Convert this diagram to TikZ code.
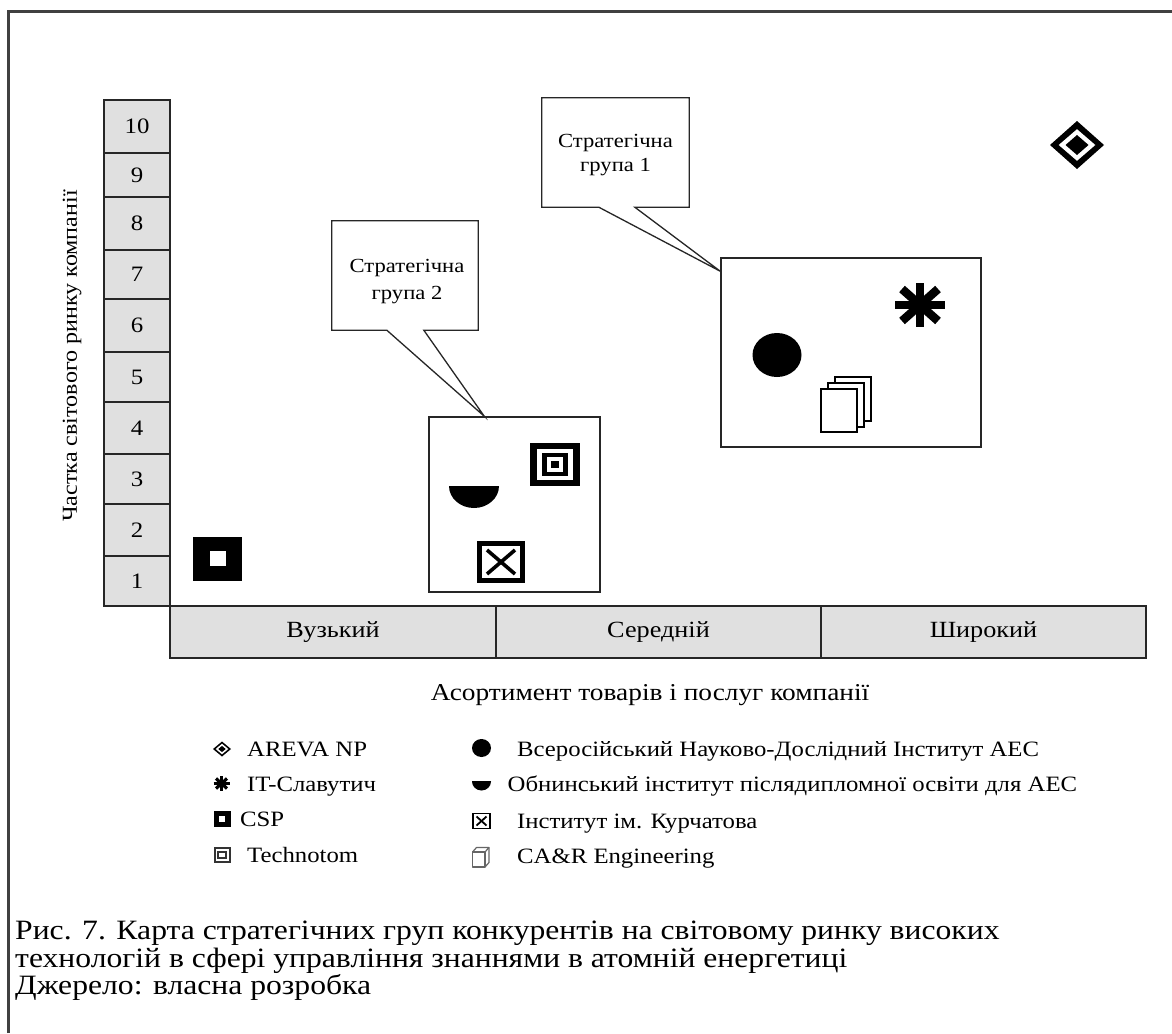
\documentclass[tikz,border=0pt]{standalone}
\usepackage{fontspec}
\setmainfont{Liberation Serif}[FakeStretch=1.13]
\usetikzlibrary{calc}
\tikzset{
  frameline/.style={draw=black!75, line width=3pt},
  cell/.style={draw=black!85, fill=black!12, line width=1.5pt, inner sep=0pt, minimum width=66pt, font=\fontsize{22}{26}\selectfont},
  xcell/.style={cell, minimum height=52pt, minimum width=325pt, font=\fontsize{23.2}{27}\selectfont},
  grp/.style={draw=black!85, line width=1.5pt, fill=white, inner sep=0pt},
  callouttext/.style={inner sep=0pt, align=center},
  calloutline/.style={draw=black!85, line width=1.3pt, line join=miter},
  legtext/.style={anchor=base west, inner sep=0pt, font=\fontsize{21.9}{25}\selectfont},
  captext/.style={anchor=base west, inner sep=0pt, font=\fontsize{28}{30}\selectfont},
  axtitle/.style={inner sep=0pt, font=\fontsize{24.2}{28}\selectfont},
}
\begin{document}
\begin{tikzpicture}[x=1pt,y=-1pt]
\useasboundingbox (0,0) rectangle (1172,1033);
\fill[white] (0,0) rectangle (1172,1033);
% outer frame (left and top edges visible)
\draw[frameline] (8,1033) -- (8,12) -- (1172,12);

% y axis cells
\node[cell, minimum height=53pt] (c10) at (137,126.5) {10};
\node[cell, minimum height=44pt] (c9) at (137,175) {9};
\node[cell, minimum height=53pt] (c8) at (137,223.5) {8};
\node[cell, minimum height=49pt] (c7) at (137,274.5) {7};
\node[cell, minimum height=53pt] (c6) at (137,325.5) {6};
\node[cell, minimum height=50pt] (c5) at (137,377) {5};
\node[cell, minimum height=52pt] (c4) at (137,428) {4};
\node[cell, minimum height=50pt] (c3) at (137,479) {3};
\node[cell, minimum height=52pt] (c2) at (137,530) {2};
\node[cell, minimum height=50pt] (c1) at (137,581) {1};
\node[axtitle, rotate=90, font=\fontsize{21.3}{25}\selectfont] (ylab) at (72,356) {Частка світового ринку компанії};

% x axis cells
\node[xcell, minimum width=326pt] (xa) at (333,632) {Вузький};
\node[xcell] (xb) at (658.5,632) {Середній};
\node[xcell] (xc) at (983.5,632) {Широкий};
\node[axtitle] (xlab) at (650,695) {Асортимент товарів і послуг компанії};

% strategic group boxes
\node[grp, minimum width=260pt, minimum height=189pt] (g1) at (851,352.5) {};
\node[grp, minimum width=171pt, minimum height=175pt] (g2) at (514.5,504.5) {};

% callouts
\node[inner sep=0pt, minimum width=147pt, minimum height=109pt] (cb1) at (615.5,152.5) {};
\node[inner sep=0pt, minimum width=146pt, minimum height=109pt] (cb2) at (405,275.5) {};
\node[callouttext, font=\fontsize{20}{23.5}\selectfont] (t1) at (615.5,155) {Стратегічна\\група 1};
\node[callouttext, font=\fontsize{20}{27}\selectfont] (t2) at (407,282) {Стратегічна\\група 2};
\coordinate (p1a) at ($(cb1.south west)+(57,0)$);
\coordinate (p1b) at ($(cb1.south west)+(93,0)$);
\coordinate (tip1) at ($(g1.north west)+(0,14)$);
\coordinate (p2a) at ($(cb2.south west)+(55,0)$);
\coordinate (p2b) at ($(cb2.south west)+(92,0)$);
\coordinate (tip2) at ($(g2.north west)+(56,0)$);
\draw[calloutline] (cb1.south west) -- (cb1.north west) -- (cb1.north east) -- (cb1.south east) -- (p1b) -- (tip1) -- (p1a) -- cycle;
\draw[calloutline] (cb2.south west) -- (cb2.north west) -- (cb2.north east) -- (cb2.south east) -- (p2b) -- (tip2) -- (p2a) -- cycle;

% ---- symbols on the map ----
% CSP
\fill (193,537) rectangle (242,581);
\fill[white] (210,551) rectangle (226,566);
% AREVA NP diamond
\fill (1050,145) -- (1077,121) -- (1104,145) -- (1077,169) -- cycle;
\fill[white] (1058.7,145) -- (1077,129.2) -- (1095.3,145) -- (1077,160.8) -- cycle;
\fill (1065.5,145) -- (1077,135) -- (1088.5,145) -- (1077,155) -- cycle;
% circle
\fill (777,355) ellipse [x radius=24.5, y radius=22];
% asterisk (IT-Slavutych)
\draw[line width=8.5pt] (895,305) -- (945,305);
\draw[line width=8.5pt] (920,283) -- (920,327);
\draw[line width=8.5pt] (902,289) -- (938,321);
\draw[line width=8.5pt] (902,321) -- (938,289);
% stacked pages (CA&R)
\draw[fill=white, line width=1.3pt] (835,377) rectangle (871,421);
\draw[fill=white, line width=1.3pt] (828,383) rectangle (864,427);
\draw[fill=white, line width=1.3pt] (821,389) rectangle (857,432);
% Technotom
\fill (530,443) rectangle (580,486);
\fill[white] (536.7,448.8) rectangle (573.3,480.2);
\fill (541.7,453) rectangle (568.3,476);
\fill[white] (546.7,457.3) rectangle (563.3,471.7);
\fill (550.7,460.8) rectangle (559.3,468.2);
% half disc (Obninsk)
\begin{scope}
  \clip (448,486) rectangle (500,510);
  \fill (474,486) ellipse [x radius=25, y radius=22];
\end{scope}
% Kurchatov
\fill (477,541) rectangle (525,583);
\fill[white] (482,546) rectangle (520,578);
\draw[line width=3.6pt] (487,550) -- (515,574);
\draw[line width=3.6pt] (487,574) -- (515,550);

% ---- legend ----
% AREVA icon
\fill (213,749) -- (222,741.5) -- (231,749) -- (222,756.5) -- cycle;
\fill[white] (215.7,749) -- (222,743.7) -- (228.3,749) -- (222,754.3) -- cycle;
\fill (218.3,749) -- (222,745.9) -- (225.7,749) -- (222,752.1) -- cycle;
\node[legtext] (l1) at (247,756.5) {AREVA NP};
% asterisk icon
\draw[line width=3.2pt] (213.5,783.5) -- (229.5,783.5);
\draw[line width=3.2pt] (221.5,776) -- (221.5,791);
\draw[line width=3.2pt] (216,778.5) -- (227,788.5);
\draw[line width=3.2pt] (216,788.5) -- (227,778.5);
\node[legtext] (l2) at (247,791) {IT-Славутич};
% CSP icon
\fill (213.5,810.5) rectangle (230.5,826.5);
\fill[white] (219,815.5) rectangle (225,821.5);
\node[legtext] (l3) at (240,826) {CSP};
% Technotom icon
\fill[black!80] (213.5,847) rectangle (230.5,863);
\fill[white] (215.5,849) rectangle (228.5,861);
\fill[black!80] (217.3,850.8) rectangle (226.7,859.2);
\fill[white] (219.2,852.6) rectangle (224.8,857.4);
\node[legtext] (l4) at (247,862.5) {Technotom};
% circle icon
\fill (481.5,748) ellipse [x radius=9.5, y radius=9];
\node[legtext] (l5) at (517,756) {Всеросійський Науково-Дослідний Інститут АЕС};
% half disc icon
\begin{scope}
  \clip (471,781.5) rectangle (492,792.5);
  \fill (481.5,781.5) ellipse [x radius=9.5, y radius=9];
\end{scope}
\node[legtext] (l6) at (507.5,791.5) {Обнинський інститут післядипломної освіти для АЕС};
% Kurchatov icon
\draw[line width=1.4pt] (473,813.5) rectangle (490,828.5);
\draw[line width=1.8pt] (476.5,816.5) -- (486.5,825.5);
\draw[line width=1.8pt] (476.5,825.5) -- (486.5,816.5);
\node[legtext] (l7) at (517,828) {Інститут ім. Курчатова};
% CA&R icon
\draw[black!60, line width=1.2pt, line join=round] (472.5,852) rectangle (485,867);
\draw[black!60, line width=1.2pt, line join=round] (472.5,852) -- (476.5,847.5) -- (489,847.5) -- (485,852);
\draw[black!60, line width=1.2pt, line join=round] (489,847.5) -- (489,862.5) -- (485,867);
\node[legtext] (l8) at (517,863) {CA\&R Engineering};

% ---- caption ----
\node[captext] (cap1) at (15,939) {Рис. 7. Карта стратегічних груп конкурентів на світовому ринку високих};
\node[captext] (cap2) at (15,967) {технологій в сфері управління знаннями в атомній енергетиці};
\node[captext] (cap3) at (15,994.5) {Джерело: власна розробка};
\end{tikzpicture}
\end{document}
